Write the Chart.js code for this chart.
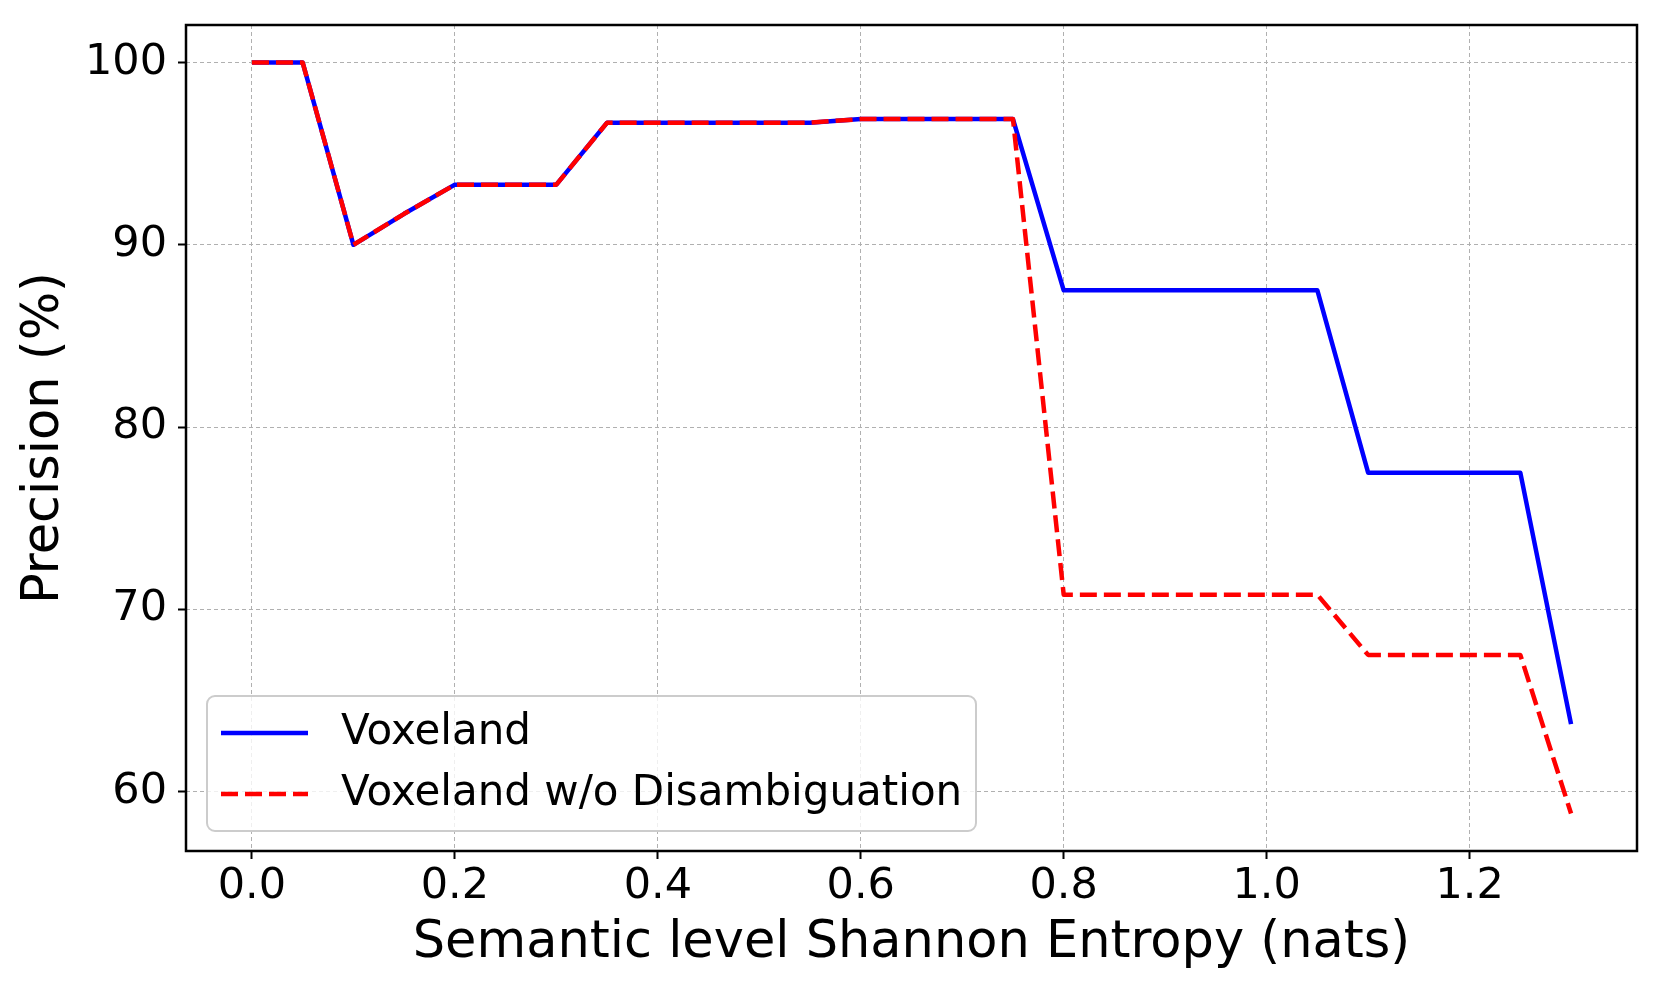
<!DOCTYPE html>
<html>
<head>
<meta charset="utf-8">
<script src="https://cdn.jsdelivr.net/npm/chart.js@4.4.1/dist/chart.umd.min.js"></script>
<style>
  html, body { margin: 0; padding: 0; background: #fff; }
  #wrap { width: 1661px; height: 997px; position: relative; }
</style>
</head>
<body>
<div id="wrap"><canvas id="chart"></canvas></div>
<script>
// entropy thresholds (nats)
const entropy = [0, 0.05, 0.1, 0.15, 0.2, 0.25, 0.3, 0.35, 0.4, 0.45, 0.5, 0.55, 0.6, 0.65,
  0.7, 0.75, 0.8, 0.85, 0.9, 0.95, 1.0, 1.05, 1.1, 1.15, 1.2, 1.25, 1.3];

const voxeland = [100, 100, 90, 91.7, 93.3, 93.3, 93.3, 96.7, 96.7, 96.7, 96.7, 96.7, 96.9, 96.9,
  96.9, 96.9, 87.5, 87.5, 87.5, 87.5, 87.5, 87.5, 77.5, 77.5, 77.5, 77.5, 63.7];

const noDisambig = [100, 100, 90, 91.7, 93.3, 93.3, 93.3, 96.7, 96.7, 96.7, 96.7, 96.7, 96.9, 96.9,
  96.9, 96.9, 70.8, 70.8, 70.8, 70.8, 70.8, 70.8, 67.5, 67.5, 67.5, 67.5, 58.8];

const xTicks = [0, 0.2, 0.4, 0.6, 0.8, 1.0, 1.2];
const yTicks = [60, 70, 80, 90, 100];

const FONT = "'DejaVu Sans', sans-serif";

const toPoints = (ys) => entropy.map((x, i) => ({ x: x, y: ys[i] }));

// full box around the plot + legend in the lower left corner
const framePlugin = {
  id: "frame",
  afterDraw(chart) {
    const { ctx, chartArea: a } = chart;
    ctx.save();

    // legend
    const bx = a.left + 21, by = a.top + 671, bw = 769, bh = 135;
    ctx.beginPath();
    ctx.roundRect(bx, by, bw, bh, 8);
    ctx.fillStyle = "rgba(255,255,255,0.8)";
    ctx.fill();
    ctx.lineWidth = 2;
    ctx.strokeStyle = "#cccccc";
    ctx.stroke();

    const entries = [chart.data.datasets[1], chart.data.datasets[0]];
    entries.forEach((ds, i) => {
      const y = by + 37 + i * 61;
      ctx.beginPath();
      ctx.setLineDash(ds.borderDash || []);
      ctx.lineWidth = ds.borderWidth;
      ctx.strokeStyle = ds.borderColor;
      ctx.moveTo(bx + 14, y);
      ctx.lineTo(bx + 101, y);
      ctx.stroke();
      ctx.setLineDash([]);
      ctx.fillStyle = "#000";
      ctx.font = "42px " + FONT;
      ctx.textBaseline = "middle";
      ctx.textAlign = "left";
      ctx.fillText(ds.label, bx + 134, y);
    });

    // spines
    ctx.lineWidth = 2.5;
    ctx.strokeStyle = "#000";
    ctx.strokeRect(a.left, a.top, a.right - a.left, a.bottom - a.top);
    ctx.restore();
  },
};

const gridStyle = {
  color: "#b0b0b0",
  lineWidth: 1,
  tickLength: 8,
  tickColor: "#000",
  tickWidth: 2,
};

new Chart(document.getElementById("chart"), {
  type: "line",
  data: {
    datasets: [
      {
        label: "Voxeland w/o Disambiguation",
        data: toPoints(noDisambig),
        borderColor: "#ff0000",
        borderWidth: 4.5,
        borderDash: [17, 7],
        order: 0,
      },
      {
        label: "Voxeland",
        data: toPoints(voxeland),
        borderColor: "#0000ff",
        borderWidth: 4.5,
        order: 1,
      },
    ],
  },
  options: {
    responsive: true,
    maintainAspectRatio: false,
    animation: false,
    layout: { padding: { top: 25, right: 24, left: 0, bottom: 0 } },
    elements: {
      point: { radius: 0 },
      line: { tension: 0, borderJoinStyle: "round", fill: false },
    },
    plugins: {
      legend: { display: false },
      tooltip: { enabled: false },
    },
    scales: {
      x: {
        type: "linear",
        min: -0.065,
        max: 1.365,
        afterBuildTicks: (s) => { s.ticks = xTicks.map((v) => ({ value: v })); },
        afterFit: (s) => { s.height = 146; s.paddingLeft = 0; s.paddingRight = 0; },
        grid: gridStyle,
        border: { display: false, dash: [4, 3] },
        ticks: {
          autoSkip: false,
          maxRotation: 0,
          padding: 6.5,
          color: "#000",
          font: { family: FONT, size: 43, lineHeight: 1 },
          callback: (v) => Number(v).toFixed(1),
        },
        title: {
          display: true,
          text: "Semantic level Shannon Entropy (nats)",
          color: "#000",
          font: { family: FONT, size: 51, lineHeight: 1 },
          padding: { top: 0, bottom: 28 },
        },
      },
      y: {
        min: 56.74,
        max: 102.06,
        afterBuildTicks: (s) => { s.ticks = yTicks.map((v) => ({ value: v })); },
        afterFit: (s) => { s.width = 186; s.paddingTop = 0; s.paddingBottom = 0; },
        grid: gridStyle,
        border: { display: false, dash: [4, 3] },
        ticks: {
          padding: 11,
          color: "#000",
          font: { family: FONT, size: 43, lineHeight: 1 },
          callback: (v) => String(v),
        },
        title: {
          display: true,
          text: "Precision (%)",
          color: "#000",
          font: { family: FONT, size: 51, lineHeight: 1 },
          padding: { top: 19, bottom: 0 },
        },
      },
    },
  },
  plugins: [framePlugin],
});
</script>
</body>
</html>
